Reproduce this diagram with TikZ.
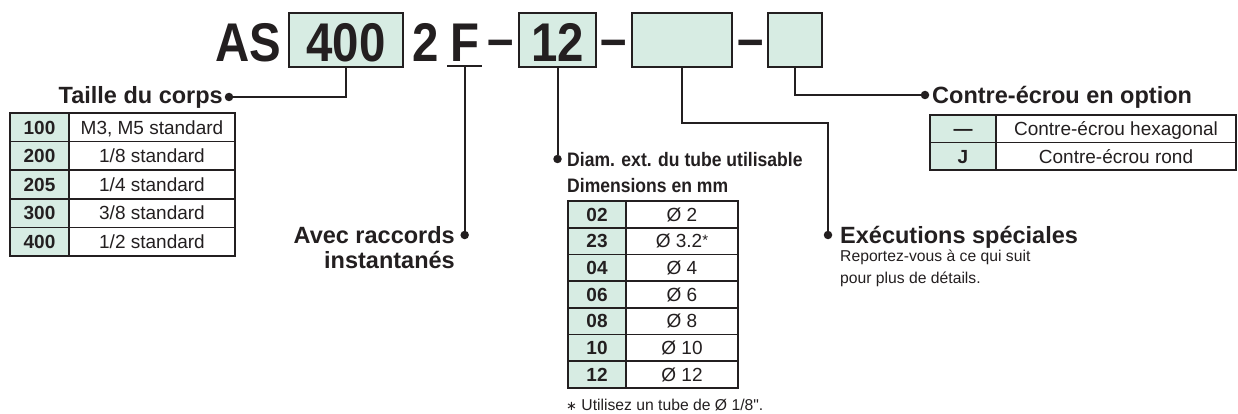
\documentclass[tikz,border=0pt]{standalone}
\usepackage{fontspec}
\setmainfont{Liberation Sans}
\newfontfamily\narrowsans[FakeStretch=0.87]{Liberation Sans}
\newfontfamily\condsans[FakeStretch=0.9]{Liberation Sans}
\newfontfamily\symsans{DejaVu Sans}
\definecolor{codegreen}{HTML}{D7ECE3}
\definecolor{ink}{HTML}{231F20}
\tikzset{
  codechar/.style={inner sep=0pt,text=ink,font=\narrowsans\bfseries\fontsize{54.5}{54.5}\selectfont},
  codebox/.style={codechar,draw=ink,line width=2.5pt,fill=codegreen,minimum height=54pt,text height=44pt,text depth=0pt},
  keycell/.style={draw=ink,line width=1.8pt,fill=codegreen,inner sep=0pt,outer sep=0pt,anchor=north west,text height=13.6pt,text depth=0pt,text=ink,font=\bfseries\fontsize{19}{19}\selectfont},
  valcell/.style={keycell,fill=white,font=\fontsize{19}{19}\selectfont},
  link/.style={draw=ink,line width=2pt},
  dotmark/.style={circle,fill=ink,inner sep=0pt,minimum size=8.5pt},
  heading/.style={inner sep=0pt,text=ink,font=\bfseries\fontsize{23.5}{25}\selectfont},
  subheading/.style={inner sep=0pt,text=ink,align=left,font=\condsans\bfseries\fontsize{19.5}{25}\selectfont},
  note/.style={inner sep=0pt,text=ink,align=left,font=\fontsize{15.7}{22}\selectfont}
}
\begin{document}
\begin{tikzpicture}[x=1pt,y=-1pt]
  \useasboundingbox (0,0) rectangle (1238,414);
  \node[codechar,anchor=base west] (as) at (215,62) {AS};
  \node[codebox,minimum width=114pt] (b400) at (346,40) {400};
  \node[codechar,anchor=base west] (two) at (412,62) {2};
  \node[codechar,anchor=base west,inner xsep=3pt,inner ysep=4pt] (fcode) at (447,62) {F};
  \node[codechar,anchor=base] (dash1) at (500.5,62) {\raisebox{4pt}{–}};
  \node[codebox,minimum width=77pt] (b12) at (557.5,40) {12};
  \node[codechar,anchor=base] (dash2) at (613.5,62) {\raisebox{4pt}{–}};
  \node[codebox,minimum width=100pt] (bspec) at (682,40) {};
  \node[codechar,anchor=base] (dash3) at (750.5,62) {\raisebox{4pt}{–}};
  \node[codebox,minimum width=54pt] (bnut) at (795,40) {};
  \draw[ink,line width=2pt] (fcode.south west) -- (fcode.south east);

  \node[dotmark] (dsize) at (229,97) {};
  \node[heading,anchor=base east] (tsize) at (223,104) {Taille du corps};
  \foreach \k/\v [count=\i] in {100/{M3, M5 standard},200/{1/8 standard},205/{1/4 standard},300/{3/8 standard},400/{1/2 standard}}{
    \node[keycell,minimum width=59pt,minimum height=28.6pt] (szk\i) at (10,{113+28.6*(\i-1)}) {\k};
    \node[valcell,minimum width=166pt,minimum height=28.6pt] (szv\i) at (szk\i.north east) {\v};
  }

  \node[dotmark] (dinst) at (fcode.south |- 0,235) {};
  \node[heading,anchor=base east,align=right] (tinst) at (455,268) {Avec raccords\\instantanés};

  \node[dotmark] (ddiam) at (b12.south |- 0,159) {};
  \node[subheading,anchor=base west] (tdiam) at (567,192) {Diam. ext. du tube utilisable\\Dimensions en mm};
  \foreach \k/\v [count=\i] in {02/{Ø 2},23/{Ø 3.2{\fontsize{15}{15}\selectfont\raisebox{2pt}{*}}},04/{Ø 4},06/{Ø 6},08/{Ø 8},10/{Ø 10},12/{Ø 12}}{
    \node[keycell,minimum width=58pt,minimum height=26.7pt] (dmk\i) at (568,{201+26.7*(\i-1)}) {\k};
    \node[valcell,minimum width=112pt,minimum height=26.7pt] (dmv\i) at (dmk\i.north east) {\v};
  }
  \node[note,anchor=base west] (tfoot) at (566,410) {{\symsans\fontsize{13}{13}\selectfont ∗} Utilisez un tube de Ø 1/8\textquotedbl.};

  \coordinate (kspec) at (828,123);
  \node[dotmark] (dspec) at (828,235) {};
  \node[heading,anchor=base west] (tspec) at (840,243) {Exécutions spéciales};
  \node[note,anchor=base west] (tsee) at (840,283) {Reportez-vous à ce qui suit\\pour plus de détails.};

  \node[dotmark] (dnut) at (925,95) {};
  \node[heading,anchor=base west] (tnut) at (932,104) {Contre-écrou en option};
  \foreach \k/\v [count=\i] in {—/{Contre-écrou hexagonal},J/{Contre-écrou rond}}{
    \node[keycell,minimum width=66pt,minimum height=27.5pt] (ntk\i) at (930,{115+27.5*(\i-1)}) {\k};
    \node[valcell,minimum width=240pt,minimum height=27.5pt] (ntv\i) at (ntk\i.north east) {\v};
  }

  \draw[link] (b400.south) |- (dsize);
  \draw[link] (fcode.south) -- (dinst);
  \draw[link] (b12.south) -- (ddiam);
  \draw[link] (bspec.south) |- (kspec) -- (dspec);
  \draw[link] (bnut.south) |- (dnut);
\end{tikzpicture}
\end{document}
